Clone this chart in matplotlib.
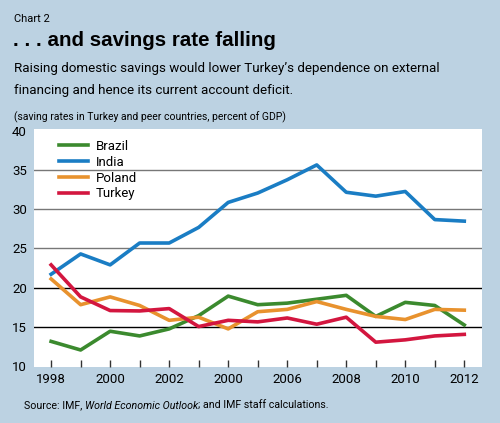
import matplotlib.pyplot as plt

# Data: saving rates, percent of GDP
years = list(range(1998, 2013))
brazil = [13.1, 12.0, 14.4, 13.8, 14.7, 16.4, 18.9, 17.8, 18.0, 18.5, 19.0, 16.3, 18.1, 17.7, 15.2]
india = [21.7, 24.3, 22.9, 25.7, 25.7, 27.7, 30.9, 32.1, 33.8, 35.7, 32.2, 31.7, 32.3, 28.7, 28.5]
poland = [21.1, 17.8, 18.8, 17.7, 15.8, 16.2, 14.7, 16.9, 17.2, 18.2, 17.2, 16.3, 15.9, 17.2, 17.1]
turkey = [22.9, 18.8, 17.05, 17.0, 17.3, 15.0, 15.8, 15.6, 16.1, 15.3, 16.2, 13.0, 13.3, 13.8, 14.0]

series_names = ['Brazil', 'India', 'Poland', 'Turkey']
series_values = [brazil, india, poland, turkey]
series_colors = ['#3b8a2e', '#1a7dc4', '#e8922e', '#d3163f']

label_years = [1998, 2000, 2002, 2004, 2006, 2008, 2010, 2012]
label_text = ['1998', '2000', '2002', '2000', '2006', '2008', '2010', '2012']
y_ticks = [10, 15, 20, 25, 30, 35, 40]

narrow = ['Roboto', 'DejaVu Sans']
bg = '#bcd2e2'

fig = plt.figure(figsize=(5, 4.23), dpi=100, facecolor=bg)
ax = fig.add_axes([0.068, 0.132, 0.896, 0.563])

# Gridlines (upper ones grey, lower ones black as in the original)
for v in y_ticks[1:6]:
    ax.axhline(v, color='#777777' if v >= 25 else 'black', lw=1.0, zorder=1)

for name, vals, col in zip(series_names, series_values, series_colors):
    ax.plot(years, vals, color=col, lw=2.6, label=name, zorder=3)

ax.set_xlim(1997.42, 2012.6)
ax.set_ylim(9.8, 40.3)
for s in ax.spines.values():
    s.set_visible(False)

ax.set_xticks(years, minor=True)
ax.set_xticks(label_years)
ax.set_xticklabels(label_text, family=narrow, fontsize=9.5)
ax.tick_params(axis='x', which='both', direction='in', length=5, width=1,
               color='#333333', pad=4)
ax.set_yticks(y_ticks)
ax.set_yticklabels([str(v) for v in y_ticks], family=narrow, fontsize=9.5)
ax.tick_params(axis='y', length=0, pad=5)

ax.legend(loc='upper left', bbox_to_anchor=(0.03, 1.005), frameon=False,
          handlelength=2.2, handletextpad=0.55, labelspacing=0.22,
          prop={'family': narrow, 'size': 9.5})

# Header texts
t_chart = fig.text(0.028, 0.955, 'Chart 2', family=narrow, fontsize=9, va='center')
t_title = fig.text(0.026, 0.905, '. . . and savings rate falling', family='Liberation Sans',
                   fontweight='bold', fontsize=13, va='center')
t_sub1 = fig.text(0.028, 0.838, "Raising domestic savings would lower Turkey\u2019s dependence on external",
                  family=narrow, fontsize=12, va='center')
t_sub2 = fig.text(0.028, 0.785, 'financing and hence its current account deficit.',
                  family=narrow, fontsize=12, va='center')
t_units = fig.text(0.028, 0.723, '(saving rates in Turkey and peer countries, percent of GDP)',
                   family=narrow, fontsize=9, va='center')

# Source line with italic title
src_y = 0.034
t1 = fig.text(0.048, src_y, 'Source: IMF, ', family=narrow, fontsize=9, va='baseline')
t2 = fig.text(0, 0, 'World Economic Outlook', family=narrow, fontsize=9,
              style='italic', va='baseline')
t3 = fig.text(0, 0, '; and IMF staff calculations.', family=narrow, fontsize=9,
              va='baseline')

fig.canvas.draw()
r = fig.canvas.get_renderer()


def fit(t, target):
    # scale font so the text spans the same width as in the original
    w = t.get_window_extent(r).width
    t.set_fontsize(t.get_fontsize() * target / w)


fit(t_chart, 36)
fit(t_title, 261)
fit(t_sub1, 423)
t_sub2.set_fontsize(t_sub1.get_fontsize())
fit(t_units, 274)

w_src = sum(t.get_window_extent(r).width for t in (t1, t2, t3))
for t in (t1, t2, t3):
    t.set_fontsize(9 * 304 / w_src)
fig.canvas.draw()
inv = fig.transFigure.inverted()
x1 = inv.transform((t1.get_window_extent(r).x1, 0))[0]
t2.set_position((x1, src_y))
fig.canvas.draw()
x2 = inv.transform((t2.get_window_extent(r).x1, 0))[0]
t3.set_position((x2, src_y))

fig.savefig('out.png', dpi=100, facecolor=bg)
